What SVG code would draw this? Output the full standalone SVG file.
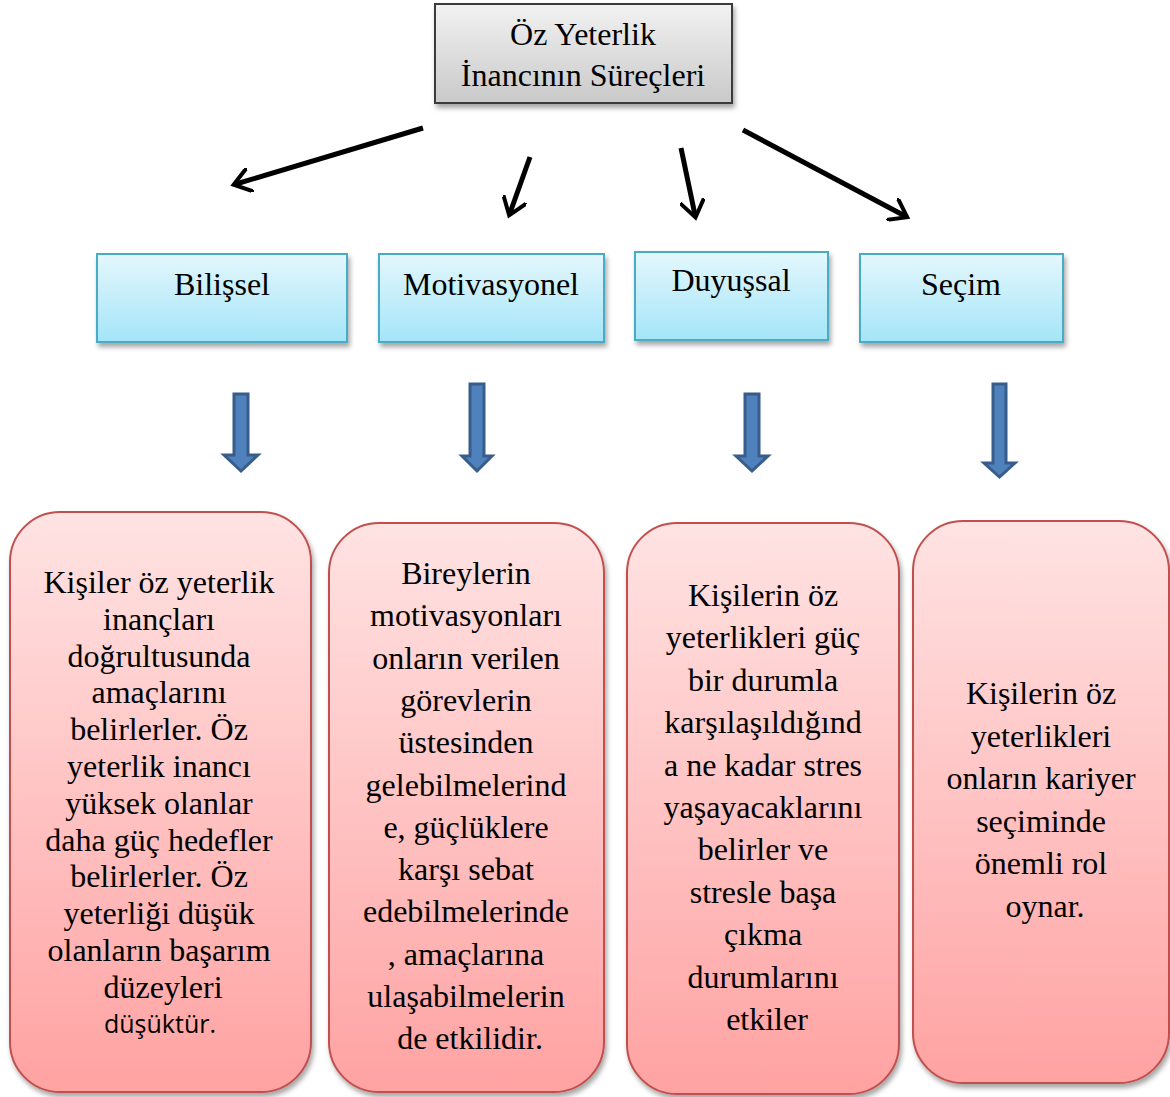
<svg xmlns="http://www.w3.org/2000/svg" width="1170" height="1097" viewBox="0 0 1170 1097">
  <defs>
    <linearGradient id="gGray" x1="0" y1="0" x2="0" y2="1">
      <stop offset="0" stop-color="#f2f2f2"/>
      <stop offset="1" stop-color="#c9c9c9"/>
    </linearGradient>
    <linearGradient id="gBlue" x1="0" y1="0" x2="0" y2="1">
      <stop offset="0" stop-color="#e4f7fd"/>
      <stop offset="1" stop-color="#a4e5f8"/>
    </linearGradient>
    <linearGradient id="gPink" x1="0" y1="0" x2="0" y2="1">
      <stop offset="0" stop-color="#ffe3e3"/>
      <stop offset="1" stop-color="#ffa2a2"/>
    </linearGradient>
    <filter id="shadow" x="-10%" y="-10%" width="125%" height="125%">
      <feDropShadow dx="2" dy="4" stdDeviation="2.5" flood-color="#000" flood-opacity="0.35"/>
    </filter>
    <marker id="head" viewBox="0 0 10 10" refX="6" refY="5" markerWidth="5" markerHeight="5" orient="auto" markerUnits="strokeWidth">
      <path d="M0,0 L7,5 L0,10" fill="none" stroke="#000" stroke-width="1.6" stroke-linejoin="miter"/>
    </marker>
    <style>
      .serif { fill: #000; text-anchor: middle; }
      .sans { fill: #000; text-anchor: middle; }
      .top { fill: url(#gGray); stroke: #3a3a3a; stroke-width: 2; filter: url(#shadow); }
      .cat { fill: url(#gBlue); stroke: #4aacc6; stroke-width: 2; filter: url(#shadow); }
      .desc { fill: url(#gPink); stroke: #c0504d; stroke-width: 2; filter: url(#shadow); }
      .conn { stroke: #000; stroke-width: 5; fill: none; marker-end: url(#head); }
      .block { fill: #4f81bd; stroke: #385d8a; stroke-width: 3; stroke-linejoin: miter; }
    </style>
  </defs>

  <rect width="1170" height="1097" fill="#fff"/>

  <g font-family="'Liberation Serif', 'Times New Roman', 'DejaVu Serif', serif" font-size="32">

  <!-- root node -->
  <g id="root">
    <rect class="top" x="435" y="4" width="297" height="99"/>
    <text class="serif" x="583" y="45">Öz Yeterlik</text>
    <text class="serif" x="583" y="86">İnancının Süreçleri</text>
  </g>

  <!-- connectors: thin arrows from root, block arrows to descriptions -->
  <g id="connectors">
    <line class="conn" x1="423" y1="128" x2="236" y2="184"/>
    <line class="conn" x1="530" y1="157" x2="510" y2="213"/>
    <line class="conn" x1="681" y1="148" x2="695" y2="215"/>
    <line class="conn" x1="743" y1="130" x2="905" y2="216"/>

    <path class="block" d="M234,394 H248 V455 H258 L241,471 L224,455 H234 Z"/>
    <path class="block" d="M470,384 H484 V456 H492 L477,471 L462,456 H470 Z"/>
    <path class="block" d="M745,394 H759 V456 H768 L752,471 L736,456 H745 Z"/>
    <path class="block" d="M993,384 H1006 V463 H1015 L999.5,477 L984,463 H993 Z"/>
  </g>

  <!-- category nodes -->
  <g id="bilissel">
    <rect class="cat" x="97" y="254" width="250" height="88"/>
    <text class="serif" x="222" y="295">Bilişsel</text>
  </g>
  <g id="motivasyonel">
    <rect class="cat" x="379" y="254" width="225" height="88"/>
    <text class="serif" x="491" y="295">Motivasyonel</text>
  </g>
  <g id="duyussal">
    <rect class="cat" x="635" y="252" width="193" height="88"/>
    <text class="serif" x="731" y="291">Duyuşsal</text>
  </g>
  <g id="secim">
    <rect class="cat" x="860" y="254" width="203" height="88"/>
    <text class="serif" x="961" y="295">Seçim</text>
  </g>

  <!-- description nodes -->
  <g id="desc-bilissel">
    <rect class="desc" x="10" y="512" width="301" height="580" rx="50" ry="50"/>
    <text class="serif" x="163">
      <tspan x="163" y="593">Kişiler öz yeterlik</tspan>
      <tspan x="163" y="629.8">inançları</tspan>
      <tspan x="163" y="666.6">doğrultusunda</tspan>
      <tspan x="163" y="703.4">amaçlarını</tspan>
      <tspan x="163" y="740.2">belirlerler. Öz</tspan>
      <tspan x="163" y="777">yeterlik inancı</tspan>
      <tspan x="163" y="813.8">yüksek olanlar</tspan>
      <tspan x="163" y="850.6">daha güç hedefler</tspan>
      <tspan x="163" y="887.4">belirlerler. Öz</tspan>
      <tspan x="163" y="924.2">yeterliği düşük</tspan>
      <tspan x="163" y="961">olanların başarım</tspan>
      <tspan x="163" y="997.8">düzeyleri</tspan>
    </text>
    <text class="sans" font-family="'Open Sans', 'DejaVu Sans', sans-serif" font-size="25" x="160" y="1033">düşüktür.</text>
  </g>

  <g id="desc-motivasyonel">
    <rect class="desc" x="329" y="523" width="275" height="569" rx="50" ry="50"/>
    <text class="serif" x="470">
      <tspan x="470" y="584">Bireylerin</tspan>
      <tspan x="470" y="626.3">motivasyonları</tspan>
      <tspan x="470" y="668.6">onların verilen</tspan>
      <tspan x="470" y="710.9">görevlerin</tspan>
      <tspan x="470" y="753.2">üstesinden</tspan>
      <tspan x="470" y="795.5">gelebilmelerind</tspan>
      <tspan x="470" y="837.8">e, güçlüklere</tspan>
      <tspan x="470" y="880.1">karşı sebat</tspan>
      <tspan x="470" y="922.4">edebilmelerinde</tspan>
      <tspan x="470" y="964.7">, amaçlarına</tspan>
      <tspan x="470" y="1007">ulaşabilmelerin</tspan>
      <tspan x="470" y="1049.3">de etkilidir.</tspan>
    </text>
  </g>

  <g id="desc-duyussal">
    <rect class="desc" x="627" y="523" width="272" height="571" rx="50" ry="50"/>
    <text class="serif" x="767">
      <tspan x="767" y="606">Kişilerin öz</tspan>
      <tspan x="767" y="648.4">yeterlikleri güç</tspan>
      <tspan x="767" y="690.8">bir durumla</tspan>
      <tspan x="767" y="733.2">karşılaşıldığınd</tspan>
      <tspan x="767" y="775.6">a ne kadar stres</tspan>
      <tspan x="767" y="818">yaşayacaklarını</tspan>
      <tspan x="767" y="860.4">belirler ve</tspan>
      <tspan x="767" y="902.8">stresle başa</tspan>
      <tspan x="767" y="945.2">çıkma</tspan>
      <tspan x="767" y="987.6">durumlarını</tspan>
      <tspan x="767" y="1030">etkiler</tspan>
    </text>
  </g>

  <g id="desc-secim">
    <rect class="desc" x="913" y="521" width="256" height="562" rx="50" ry="50"/>
    <text class="serif" x="1045">
      <tspan x="1045" y="704">Kişilerin öz</tspan>
      <tspan x="1045" y="746.6">yeterlikleri</tspan>
      <tspan x="1045" y="789.2">onların kariyer</tspan>
      <tspan x="1045" y="831.8">seçiminde</tspan>
      <tspan x="1045" y="874.4">önemli rol</tspan>
      <tspan x="1045" y="917">oynar.</tspan>
    </text>
  </g>

  </g>
</svg>
